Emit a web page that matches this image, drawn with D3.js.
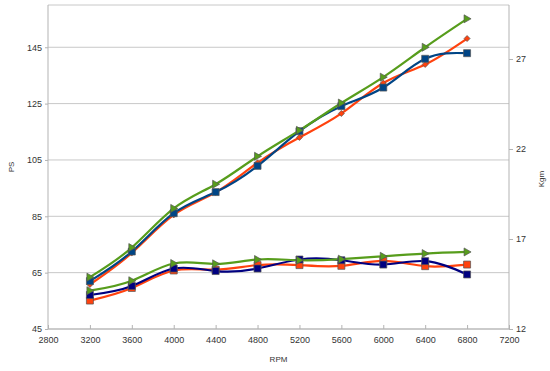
<!DOCTYPE html>
<html>
<head>
<meta charset="utf-8">
<script src="https://cdn.jsdelivr.net/npm/d3@7"></script>
<style>
  body { margin: 0; background: #fff; }
  text { font-family: "Liberation Sans", Arial, sans-serif; fill: #333; }
</style>
</head>
<body>
<div id="chart"></div>
<script>
// data
var rpm = [3200, 3600, 4000, 4400, 4800, 5200, 5600, 6000, 6400, 6800];

// power (PS, left axis)
var psGreen  = [63.4, 73.9, 87.8, 96.4, 106.3, 115.5, 125.2, 134.4, 145.0, 155.1];
var psOrange = [60.8, 72.0, 85.5, 93.5, 104.0, 113.0, 121.5, 132.3, 138.9, 148.1];
var psBlue   = [62.0, 72.5, 86.1, 93.6, 102.9, 115.2, 124.1, 130.7, 140.9, 142.9];

// torque (Kgm, right axis)
var kgGreen  = [14.13, 14.68, 15.64, 15.62, 15.86, 15.82, 15.88, 16.04, 16.19, 16.28];
var kgOrange = [13.58, 14.28, 15.25, 15.30, 15.55, 15.55, 15.51, 15.78, 15.49, 15.58];
var kgNavy   = [13.89, 14.39, 15.36, 15.22, 15.36, 15.86, 15.82, 15.58, 15.77, 15.03];

var xTicks = [2800, 3200, 3600, 4000, 4400, 4800, 5200, 5600, 6000, 6400, 6800, 7200];
var psTicks = [45, 65, 85, 105, 125, 145];
var kgTicks = [12, 17, 22, 27];

var W = 550, H = 371;
var margin = {top: 5, right: 41, bottom: 42, left: 48};
var width = W - margin.left - margin.right,
    height = H - margin.top - margin.bottom;

var svg = d3.select("#chart").append("svg")
    .attr("width", W)
    .attr("height", H);
var g = svg.append("g")
    .attr("transform", "translate(" + margin.left + "," + margin.top + ")");

var x = d3.scaleLinear().domain([2800, 7200]).range([0, width]);
var yL = d3.scaleLinear().domain([45, 160]).range([height, 0]);
var yR = d3.scaleLinear().domain([12, 30]).range([height, 0]);

// grid
g.selectAll(".grid")
  .data(psTicks.concat([160]))
  .join("line")
  .attr("x1", 0).attr("x2", width)
  .attr("y1", d => yL(d)).attr("y2", d => yL(d))
  .attr("stroke", "#c8c8c8").attr("stroke-width", 1);

// axes
var gx = g.append("g")
  .attr("transform", "translate(0," + height + ")")
  .call(d3.axisBottom(x).tickValues(xTicks).tickFormat(d3.format("d")).tickSize(-4).tickPadding(8));
var gl = g.append("g")
  .call(d3.axisLeft(yL).tickValues(psTicks).tickSize(3).tickPadding(3));
var gr = g.append("g")
  .attr("transform", "translate(" + width + ",0)")
  .call(d3.axisRight(yR).tickValues(kgTicks).tickSize(4).tickPadding(3));

[gx, gl, gr].forEach(function(a) {
  a.select(".domain").attr("stroke", "#b3b3b3");
  a.selectAll(".tick line").attr("stroke", "#b3b3b3");
  a.selectAll("text").style("font-size", "9px").attr("fill", "#333")
    .style("font-family", "'Liberation Sans', Arial, sans-serif");
});
gx.select(".domain").attr("d", "M0,0H" + width);
gl.select(".domain").attr("d", "M0,0V" + height);
gr.select(".domain").attr("d", "M0,0V" + height);

// axis titles
svg.append("text").text("RPM")
  .attr("x", margin.left + width / 2).attr("y", 362)
  .attr("text-anchor", "middle").style("font-size", "8px");
svg.append("text").text("PS")
  .attr("transform", "translate(14," + (margin.top + height / 2) + ") rotate(-90)")
  .attr("text-anchor", "middle").style("font-size", "8px");
svg.append("text").text("Kgm")
  .attr("transform", "translate(544," + (margin.top + height / 2 + 12) + ") rotate(-90)")
  .attr("text-anchor", "middle").style("font-size", "8px");

var series = [
  {vals: kgOrange, y: yR, color: "#ff420e", marker: "square"},
  {vals: kgNavy,   y: yR, color: "#000080", marker: "square"},
  {vals: kgGreen,  y: yR, color: "#579d1c", marker: "triangle"},
  {vals: psOrange, y: yL, color: "#ff420e", marker: "diamond"},
  {vals: psBlue,   y: yL, color: "#004586", marker: "square"},
  {vals: psGreen,  y: yL, color: "#579d1c", marker: "triangle"}
];

var line = d3.line().curve(d3.curveNatural);

series.forEach(function(s) {
  var pts = rpm.map((r, i) => [x(r), s.y(s.vals[i])]);
  g.append("path")
    .attr("d", line(pts))
    .attr("fill", "none")
    .attr("stroke", s.color)
    .attr("stroke-width", 2.2);
});

// markers on top
series.forEach(function(s) {
  var pts = rpm.map((r, i) => [x(r), s.y(s.vals[i])]);
  var m = g.append("g").selectAll("path").data(pts).join("path")
    .attr("transform", d => "translate(" + d[0] + "," + d[1] + ")")
    .attr("fill", s.color)
    .attr("stroke", "#555")
    .attr("stroke-width", 0.7);
  if (s.marker === "square") m.attr("d", "M-3.5,-3.5H3.5V3.5H-3.5Z");
  else if (s.marker === "triangle") m.attr("d", "M-3,-4L4,0L-3,4Z");
  else m.attr("d", "M0,-3L3,0L0,3L-3,0Z");
});
</script>
</body>
</html>
